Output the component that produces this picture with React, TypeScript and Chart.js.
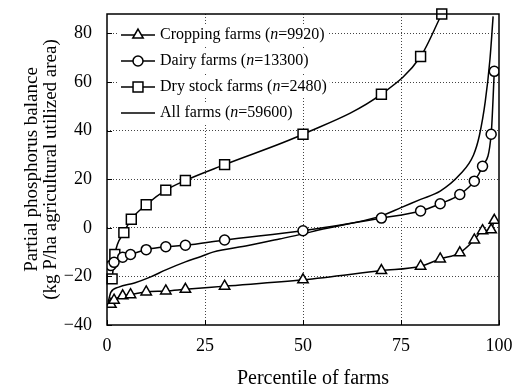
import React, { useEffect, useRef } from 'react';
import { Chart, registerables } from 'chart.js';
import { drawPoint } from 'chart.js/helpers';

Chart.register(...registerables);

const seriesNames = ['Cropping farms', 'Dairy farms', 'Dry stock farms', 'All farms'];
const seriesN = [9920, 13300, 2480, 59600];
const seriesMarkers = ['triangle', 'circle', 'rect', false];

const croppingX = [1, 1.8, 4, 6, 10, 15, 20, 30, 50, 70, 80, 85, 90, 93.7, 95.8, 98, 98.8];
const croppingY = [-31.5, -29.8, -28, -27.5, -26.4, -26, -25.3, -24, -21.4, -17.6, -15.8, -12.8, -10.3, -5, -1.2, -0.8, 3.1];

const dairyX = [1, 1.8, 4, 6, 10, 15, 20, 30, 50, 70, 80, 85, 90, 93.7, 95.8, 98, 98.8];
const dairyY = [-15.5, -14.2, -12.1, -11, -9, -7.8, -7.2, -5, -1.2, 4, 6.9, 9.9, 13.7, 19.2, 25.3, 38.5, 64.4];

const dryX = [1.3, 2, 4.3, 6.2, 10, 15, 20, 30, 50, 70, 80, 85.4];
const dryY = [-21, -11, -2, 3.5, 9.5, 15.5, 19.5, 26, 38.5, 55, 70.5, 88];

const allX = [0.3, 1, 3, 7, 11, 15, 20, 24, 27, 36, 44, 50, 54, 70, 75, 80, 85, 90, 93.5, 95, 96.5, 97.7, 98.5];
const allY = [-30.5, -26.5, -24.4, -22.7, -20.3, -17.3, -14, -11.8, -10, -7.3, -4.6, -2.5, -0.9, 4.9, 8.3, 11.7, 15.1, 21.9, 30, 38, 52, 69.5, 87];

const xTicks = [0, 25, 50, 75, 100];
const yTicks = [-40, -20, 0, 20, 40, 60, 80];
const xRange = [0, 100];
const yRange = [-40, 88];
const xTitle = 'Percentile of farms';
const yTitle = ['Partial phosphorus balance', '(kg P/ha agricultural utilized area)'];

const FONT = "'Liberation Serif', 'Times New Roman', serif";

const toPoints = (xs: number[], ys: number[]) => xs.map((x, i) => ({ x, y: ys[i] }));

const framePlugin = {
  id: 'frameTicks',
  afterDatasetsDraw(chart: any) {
    const { ctx, chartArea, scales } = chart;
    const { left, right, top, bottom } = chartArea;
    ctx.save();
    ctx.strokeStyle = '#000';
    ctx.lineWidth = 1;
    ctx.beginPath();
    yTicks.forEach((v) => {
      const py = Math.round(scales.y.getPixelForValue(v)) + 0.5;
      ctx.moveTo(left, py);
      ctx.lineTo(left + 5, py);
    });
    xTicks.forEach((v) => {
      const px = Math.round(scales.x.getPixelForValue(v)) + 0.5;
      ctx.moveTo(px, bottom);
      ctx.lineTo(px, bottom - 5);
    });
    ctx.stroke();
    ctx.lineWidth = 1.5;
    ctx.strokeRect(left, top, right - left, bottom - top);
    ctx.restore();
  },
  afterDraw(chart: any) {
    const { ctx, chartArea } = chart;
    ctx.save();
    // x axis title
    ctx.fillStyle = '#000';
    ctx.font = `20px ${FONT}`;
    ctx.textAlign = 'center';
    ctx.textBaseline = 'middle';
    ctx.fillText(xTitle, (chartArea.left + chartArea.right) / 2 + 10, 379);

    // legend
    const x0 = chartArea.left + 14;
    const lineLen = 34;
    chart.data.datasets.forEach((ds: any, i: number) => {
      const y = chartArea.top + 21 + i * 26;
      const textX = x0 + lineLen + 5;
      const p1 = `${seriesNames[i]} (`;
      const p2 = 'n';
      const p3 = `=${seriesN[i]})`;
      ctx.font = `16px ${FONT}`;
      const w1 = ctx.measureText(p1).width;
      const w3 = ctx.measureText(p3).width;
      ctx.font = `italic 16px ${FONT}`;
      const w2 = ctx.measureText(p2).width;
      const total = w1 + w2 + w3;
      ctx.fillStyle = '#fff';
      ctx.fillRect(x0 - 4, y - 11, textX + total + 3 - (x0 - 4), 22);
      ctx.strokeStyle = '#000';
      ctx.lineWidth = 1.5;
      ctx.beginPath();
      ctx.moveTo(x0, y);
      ctx.lineTo(x0 + lineLen, y);
      ctx.stroke();
      if (seriesMarkers[i]) {
        ctx.fillStyle = '#fff';
        ctx.strokeStyle = '#000';
        ctx.lineWidth = 1.5;
        drawPoint(ctx, { pointStyle: ds.pointStyle, radius: ds.pointRadius, rotation: 0, borderWidth: 1.5 }, x0 + lineLen / 2, y);
      }
      ctx.fillStyle = '#000';
      ctx.textAlign = 'left';
      ctx.textBaseline = 'middle';
      ctx.font = `16px ${FONT}`;
      ctx.fillText(p1, textX, y);
      ctx.font = `italic 16px ${FONT}`;
      ctx.fillText(p2, textX + w1, y);
      ctx.font = `16px ${FONT}`;
      ctx.fillText(p3, textX + w1 + w2, y);
    });
    ctx.restore();
  },
};

const radii: Record<string, number> = { triangle: 6, circle: 5, rect: 7 };

export default function App() {
  const ref = useRef<HTMLCanvasElement | null>(null);
  useEffect(() => {
    if (!ref.current) return;
    const sets = [
      toPoints(croppingX, croppingY),
      toPoints(dairyX, dairyY),
      toPoints(dryX, dryY),
      toPoints(allX, allY),
    ];
    const chart = new Chart(ref.current, {
      type: 'line',
      data: {
        datasets: sets.map((data, i) => ({
          label: `${seriesNames[i]} (n=${seriesN[i]})`,
          data,
          borderColor: '#000',
          borderWidth: 1.5,
          pointStyle: (seriesMarkers[i] || 'circle') as any,
          pointRadius: seriesMarkers[i] ? radii[seriesMarkers[i] as string] : 0,
          pointHoverRadius: seriesMarkers[i] ? radii[seriesMarkers[i] as string] : 0,
          pointBackgroundColor: '#fff',
          pointBorderColor: '#000',
          pointBorderWidth: 1.5,
          cubicInterpolationMode: 'monotone' as const,
          fill: false,
          clip: i === 2 ? false : undefined,
        })),
      },
      options: {
        animation: false,
        responsive: true,
        maintainAspectRatio: false,
        layout: { padding: { left: 0, right: 19, top: 14, bottom: 0 } },
        plugins: { legend: { display: false }, tooltip: { enabled: false } },
        scales: {
          x: {
            type: 'linear',
            min: xRange[0],
            max: xRange[1],
            afterBuildTicks: (s: any) => { s.ticks = xTicks.map((v) => ({ value: v })); },
            afterFit: (s: any) => { s.height = 67; s.paddingLeft = 0; s.paddingRight = 0; },
            ticks: { color: '#000', font: { family: FONT, size: 18 }, padding: 10, maxRotation: 0 },
            grid: {
              drawTicks: false,
              color: (c: any) => (c.tick && (c.tick.value === 0 || c.tick.value === 100) ? 'rgba(0,0,0,0)' : '#444'),
              lineWidth: 1,
            },
            border: { display: false, dash: [1, 2] },
          },
          y: {
            type: 'linear',
            min: yRange[0],
            max: yRange[1],
            afterBuildTicks: (s: any) => { s.ticks = yTicks.map((v) => ({ value: v })); },
            afterFit: (s: any) => { s.width = 107; s.paddingTop = 0; s.paddingBottom = 0; },
            ticks: {
              color: '#000',
              font: { family: FONT, size: 18 },
              padding: 15,
              callback: (v: any) => (Number(v) < 0 ? '\u2212' + Math.abs(Number(v)) : String(v)),
            },
            grid: {
              drawTicks: false,
              color: (c: any) => (c.tick && c.tick.value === -40 ? 'rgba(0,0,0,0)' : '#444'),
              lineWidth: 1,
            },
            border: { display: false, dash: [1, 2] },
            title: {
              display: true,
              text: yTitle,
              color: '#000',
              font: { family: FONT, size: 19, lineHeight: 1.0 },
              padding: { top: 23, bottom: 0 },
            },
          },
        },
      },
      plugins: [framePlugin],
    });
    return () => chart.destroy();
  }, []);
  return (
    <div style={{ position: 'fixed', left: 0, top: 0, width: 518, height: 392, background: '#fff' }}>
      <canvas ref={ref} />
    </div>
  );
}
